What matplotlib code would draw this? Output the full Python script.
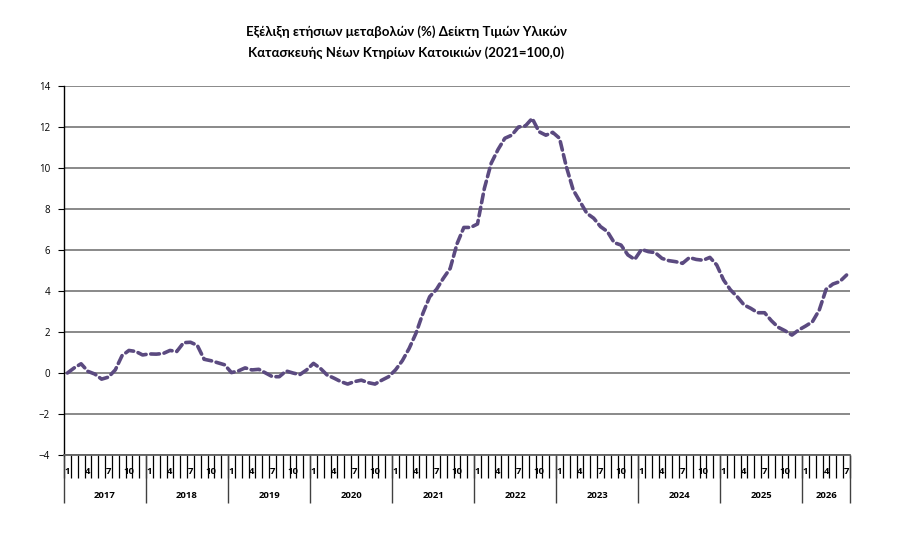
import matplotlib
matplotlib.use("Agg")
import matplotlib.pyplot as plt
import numpy as np

plt.rcParams["font.family"] = ["Open Sans", "DejaVu Sans"]

# Annual change (%) by month, Jan 2017 .. Jul 2026
y2017 = [0.0, 0.25, 0.45, 0.08, -0.05, -0.3, -0.2, 0.15, 0.85, 1.1, 1.05, 0.88]
y2018 = [0.93, 0.92, 0.95, 1.1, 1.05, 1.48, 1.5, 1.35, 0.67, 0.6, 0.5, 0.4]
y2019 = [0.02, 0.1, 0.25, 0.15, 0.18, 0.0, -0.18, -0.18, 0.1, 0.0, -0.08, 0.15]
y2020 = [0.47, 0.23, -0.1, -0.25, -0.42, -0.54, -0.42, -0.35, -0.47, -0.54, -0.35, -0.18]
y2021 = [0.15, 0.6, 1.2, 1.94, 2.9, 3.72, 4.08, 4.62, 5.1, 6.3, 7.1, 7.1]
y2022 = [7.27, 9.0, 10.23, 10.9, 11.45, 11.6, 12.0, 12.05, 12.42, 11.77, 11.6, 11.74]
y2023 = [11.45, 10.06, 8.93, 8.36, 7.79, 7.55, 7.14, 6.9, 6.36, 6.24, 5.76, 5.54]
y2024 = [6.03, 5.92, 5.87, 5.59, 5.48, 5.43, 5.35, 5.63, 5.54, 5.5, 5.64, 5.27]
y2025 = [4.54, 4.06, 3.72, 3.32, 3.15, 2.94, 2.94, 2.55, 2.23, 2.06, 1.85, 2.1]
y2026 = [2.29, 2.5, 3.07, 4.08, 4.34, 4.46, 4.78]

years = [2017, 2018, 2019, 2020, 2021, 2022, 2023, 2024, 2025, 2026]
month_labels = ["1", "4", "7", "10"]
values = y2017 + y2018 + y2019 + y2020 + y2021 + y2022 + y2023 + y2024 + y2025 + y2026

title = ("Εξέλιξη ετήσιων μεταβολών (%) Δείκτη Τιμών Υλικών\n"
         "Κατασκευής Νέων Κτηρίων Κατοικιών (2021=100,0)")

n = len(values)
x = np.arange(n)

fig = plt.figure(figsize=(9.09, 5.42), dpi=100)
ax = fig.add_axes([64 / 909, 1 - 455 / 542, 786 / 909, 369 / 542])

ax.plot(x, values, color="#5b4a80", lw=2.6, linestyle=(0, (2.4, 1.3)),
        dash_capstyle="round", zorder=3)

ax.set_xlim(-0.5, n - 0.5)
ax.set_ylim(-4, 14)
ax.set_yticks(np.arange(-4, 15, 2))
ax.yaxis.grid(True, color="#808080", lw=1.3)
ax.set_axisbelow(True)
ax.tick_params(axis="y", labelsize=7, length=4, width=0.8, pad=6, color="black")
ax.set_xticks([])

for side in ["top", "right"]:
    ax.spines[side].set_visible(False)
ax.spines["left"].set_color("black")
ax.spines["left"].set_linewidth(1.0)
ax.spines["bottom"].set_color("#606060")
ax.spines["bottom"].set_linewidth(1.3)

# category axis: month boundaries, month labels, year separators
trans = ax.get_xaxis_transform()
px = 1 / 369
month_bounds = np.arange(n + 1) - 0.5
ax.vlines(month_bounds, -23 * px, 0, transform=trans, color="black", lw=0.9, clip_on=False)

idx = 0
for yr in years:
    months = 12 if yr != years[-1] else len(y2026)
    for m in range(months):
        label = str(m + 1)
        if label in month_labels:
            ax.text(idx + m, -16 * px, label, transform=trans, ha="center", va="center",
                    fontsize=6.8, fontweight="bold", clip_on=False)
    ax.text(idx + (months - 1) / 2, -40 * px, str(yr), transform=trans, ha="center",
            va="center", fontsize=6.8, fontweight="bold", clip_on=False)
    ax.vlines([idx - 0.5], -48 * px, 0, transform=trans, color="#404040", lw=1.0, clip_on=False)
    idx += months
ax.vlines([idx - 0.5], -48 * px, 0, transform=trans, color="#404040", lw=1.0, clip_on=False)

fig.text(0.447, 1 - 42 / 542, title, ha="center", va="center", fontsize=9.5,
         fontweight="bold", linespacing=1.75, family=["Lato", "Open Sans", "DejaVu Sans"])

fig.savefig("out.png", dpi=100)
